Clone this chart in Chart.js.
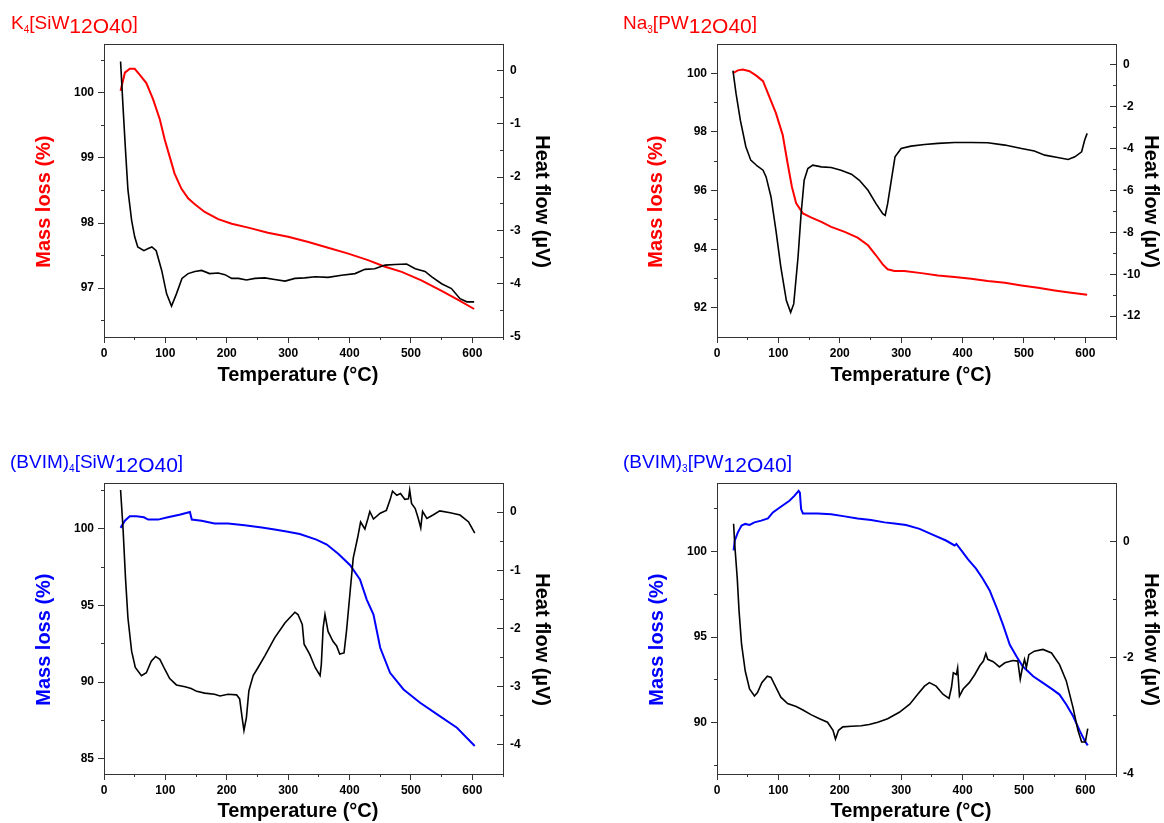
<!DOCTYPE html>
<html>
<head>
<meta charset="utf-8">
<script src="https://cdn.jsdelivr.net/npm/chart.js@4.4.1/dist/chart.umd.min.js"></script>
<style>
html, body { margin: 0; padding: 0; background: #fff; }
#wrap { position: relative; width: 1164px; height: 823px; overflow: hidden; font-family: Arial, "Liberation Sans", sans-serif; }
.panel { position: absolute; }
.panel canvas { display: block; }
.ttl { position: absolute; font-size: 19px; line-height: 19px; white-space: nowrap; }
.ttl .s { font-size: 10px; position: relative; top: 4px; line-height: 0; }
.ttl .b { font-size: 21px; position: relative; top: 4px; line-height: 0; }
</style>
</head>
<body>
<div id="wrap">
  <div class="panel" style="left:0;top:0"><canvas id="c1" width="582" height="400"></canvas></div>
  <div class="panel" style="left:582px;top:0"><canvas id="c2" width="582" height="400"></canvas></div>
  <div class="panel" style="left:0;top:418px"><canvas id="c3" width="582" height="405"></canvas></div>
  <div class="panel" style="left:582px;top:418px"><canvas id="c4" width="582" height="405"></canvas></div>

  <div class="ttl" style="left:11px;top:13px;color:#f00">K<span class="s">4</span>[SiW<span class="b">12O40</span>]</div>
  <div class="ttl" style="left:623px;top:13px;color:#f00">Na<span class="s">3</span>[PW<span class="b">12O40</span>]</div>
  <div class="ttl" style="left:10px;top:452px;color:#00f">(BVIM)<span class="s">4</span>[SiW<span class="b">12O40</span>]</div>
  <div class="ttl" style="left:623px;top:452px;color:#00f">(BVIM)<span class="s">3</span>[PW<span class="b">12O40</span>]</div>
</div>

<script>
// temperature axis (°C)
const tempMajor = [0, 100, 200, 300, 400, 500, 600];
const tempMinor = [50, 150, 250, 350, 450, 550, 650];

// K4[SiW12O40]  [T, value]
const k4Mass = [[27,100.03],[34,100.31],[42,100.37],[50,100.37],[58,100.28],[69,100.15],[80,99.90],[91,99.59],[99,99.28],[107,99.02],[115,98.76],[126,98.53],[137,98.38],[148,98.29],[164,98.17],[186,98.06],[208,97.99],[235,97.93],[267,97.85],[300,97.79],[333,97.71],[365,97.62],[398,97.53],[430,97.43],[458,97.33],[485,97.25],[517,97.12],[550,96.96],[577,96.82],[603,96.68]];
const k4Heat = [[27,0.17],[31,-0.68],[35,-1.49],[39,-2.24],[45,-2.81],[50,-3.12],[55,-3.31],[65,-3.38],[72,-3.34],[78,-3.31],[85,-3.38],[94,-3.75],[102,-4.19],[110,-4.42],[118,-4.19],[127,-3.90],[137,-3.81],[148,-3.77],[159,-3.75],[172,-3.81],[186,-3.80],[197,-3.83],[208,-3.90],[219,-3.90],[232,-3.93],[246,-3.90],[262,-3.89],[278,-3.92],[295,-3.95],[311,-3.90],[327,-3.89],[344,-3.87],[365,-3.88],[387,-3.84],[409,-3.81],[425,-3.73],[441,-3.72],[458,-3.65],[474,-3.64],[493,-3.63],[507,-3.72],[523,-3.77],[534,-3.87],[550,-4.00],[566,-4.09],[580,-4.28],[591,-4.34],[603,-4.34]];
const k4MassMajor = [97, 98, 99, 100];
const k4MassMinor = [96.5, 97.5, 98.5, 99.5, 100.5];
const k4HeatMajor = [-5, -4, -3, -2, -1, 0];
const k4HeatMinor = [-4.5, -3.5, -2.5, -1.5, -0.5];

// Na3[PW12O40]
const na3Mass = [[26,100.01],[34,100.10],[42,100.13],[53,100.07],[64,99.92],[75,99.73],[85,99.21],[96,98.64],[107,97.90],[115,96.93],[122,96.13],[129,95.56],[140,95.22],[153,95.08],[170,94.93],[186,94.76],[208,94.59],[229,94.39],[246,94.13],[259,93.79],[270,93.48],[278,93.31],[289,93.25],[305,93.25],[333,93.18],[360,93.10],[387,93.05],[414,92.99],[441,92.91],[469,92.85],[496,92.76],[523,92.68],[550,92.59],[577,92.51],[603,92.44]];
const na3Heat = [[26,-0.27],[31,-1.36],[38,-2.64],[47,-3.91],[55,-4.55],[66,-4.84],[75,-5.03],[80,-5.35],[88,-6.31],[96,-7.91],[104,-9.66],[113,-11.26],[120,-11.82],[125,-11.42],[132,-9.19],[137,-7.11],[142,-5.51],[148,-4.95],[156,-4.79],[170,-4.87],[186,-4.90],[202,-5.03],[219,-5.22],[232,-5.51],[246,-5.99],[259,-6.63],[270,-7.11],[274,-7.19],[278,-6.63],[284,-5.51],[290,-4.39],[300,-3.99],[316,-3.88],[338,-3.80],[360,-3.75],[387,-3.71],[414,-3.71],[441,-3.72],[469,-3.83],[496,-3.99],[517,-4.11],[534,-4.31],[555,-4.42],[572,-4.52],[583,-4.39],[594,-4.15],[599,-3.59],[603,-3.27]];
const na3MassMajor = [92, 94, 96, 98, 100];
const na3MassMinor = [93, 95, 97, 99];
const na3HeatMajor = [-12, -10, -8, -6, -4, -2, 0];
const na3HeatMinor = [-11, -9, -7, -5, -3, -1];

// (BVIM)4[SiW12O40]
const siMass = [[27,100.07],[34,100.54],[42,100.83],[53,100.83],[65,100.76],[72,100.61],[88,100.61],[104,100.76],[123,100.93],[140,101.11],[143,100.61],[159,100.54],[180,100.35],[202,100.35],[229,100.24],[257,100.09],[278,99.96],[295,99.85],[319,99.67],[346,99.30],[363,98.98],[382,98.37],[401,97.63],[417,96.70],[428,95.39],[439,94.41],[450,92.24],[466,90.61],[488,89.52],[515,88.65],[547,87.78],[575,87.02],[604,85.83]];
const siHeat = [[27,0.38],[31,-0.28],[35,-1.13],[39,-1.82],[45,-2.39],[51,-2.67],[61,-2.81],[69,-2.76],[77,-2.56],[84,-2.48],[91,-2.53],[99,-2.70],[107,-2.86],[118,-2.97],[132,-3.00],[142,-3.03],[151,-3.08],[164,-3.11],[180,-3.13],[189,-3.16],[202,-3.13],[216,-3.14],[221,-3.21],[225,-3.53],[228,-3.75],[232,-3.53],[236,-3.07],[243,-2.81],[251,-2.67],[262,-2.47],[278,-2.16],[295,-1.90],[311,-1.72],[316,-1.76],[323,-1.93],[326,-2.27],[335,-2.44],[344,-2.67],[352,-2.81],[354,-2.62],[357,-1.99],[360,-1.76],[365,-2.05],[373,-2.22],[379,-2.30],[384,-2.44],[391,-2.42],[395,-2.05],[401,-1.36],[406,-0.79],[413,-0.45],[418,-0.17],[425,-0.29],[430,-0.11],[433,0.01],[439,-0.12],[450,-0.02],[460,0.03],[466,0.21],[470,0.36],[477,0.29],[483,0.32],[490,0.22],[496,0.23],[498,0.38],[501,0.15],[507,0.06],[512,-0.11],[516,-0.27],[519,0.01],[526,-0.11],[536,-0.05],[547,0.02],[564,-0.01],[580,-0.05],[594,-0.17],[604,-0.36]];
const siMassMajor = [85, 90, 95, 100];
const siMassMinor = [87.5, 92.5, 97.5, 102.5];
const siHeatMajor = [-4, -3, -2, -1, 0];
const siHeatMinor = [-4.5, -3.5, -2.5, -1.5, -0.5];

// (BVIM)3[PW12O40]
const pMass = [[27,100.06],[29,100.64],[34,101.12],[40,101.51],[46,101.61],[53,101.55],[61,101.70],[72,101.80],[83,101.93],[91,102.28],[104,102.61],[118,102.96],[126,103.25],[133,103.54],[135,103.44],[137,102.48],[140,102.22],[164,102.22],[186,102.17],[208,102.05],[229,101.93],[251,101.84],[273,101.70],[289,101.64],[308,101.55],[330,101.32],[352,100.97],[373,100.64],[387,100.35],[390,100.44],[398,100.06],[409,99.54],[422,99.00],[433,98.41],[444,97.74],[455,96.77],[466,95.71],[477,94.55],[488,93.87],[498,93.29],[515,92.71],[531,92.32],[547,91.93],[558,91.64],[569,91.06],[580,90.39],[591,89.52],[599,88.94],[604,88.67]];
const pHeat = [[27,0.30],[29,-0.07],[33,-0.64],[36,-1.21],[40,-1.77],[46,-2.23],[53,-2.54],[61,-2.66],[66,-2.60],[73,-2.43],[82,-2.32],[88,-2.34],[96,-2.51],[104,-2.68],[115,-2.79],[129,-2.84],[140,-2.90],[153,-2.98],[167,-3.05],[180,-3.11],[189,-3.25],[193,-3.40],[198,-3.25],[205,-3.19],[219,-3.18],[235,-3.17],[248,-3.15],[262,-3.11],[278,-3.05],[297,-2.94],[314,-2.80],[327,-2.63],[338,-2.49],[346,-2.43],[357,-2.49],[368,-2.63],[378,-2.70],[382,-2.51],[385,-2.26],[390,-2.29],[392,-2.18],[395,-2.66],[401,-2.54],[411,-2.43],[420,-2.29],[428,-2.14],[434,-2.06],[438,-1.93],[441,-2.03],[450,-2.07],[460,-2.16],[469,-2.09],[482,-2.05],[490,-2.06],[494,-2.37],[497,-2.20],[501,-2.03],[504,-2.17],[508,-1.95],[517,-1.89],[531,-1.86],[545,-1.92],[558,-2.12],[569,-2.40],[580,-2.86],[588,-3.25],[594,-3.45],[600,-3.45],[604,-3.22]];
const pMassMajor = [90, 95, 100];
const pMassMinor = [87.5, 92.5, 97.5, 102.5];
const pHeatMajor = [-4, -2, 0];
const pHeatMinor = [-3, -1];

Chart.defaults.font.family = 'Arial, "Liberation Sans", sans-serif';
Chart.defaults.color = '#000';

const AXIS = '#333';
const tickFont = { size: 12, weight: 'bold' };
const titleFont = { size: 20, weight: 'bold' };

// sets the tick values of a scale to a fixed list
const fixTicks = (vals) => (s) => { s.ticks = vals.map(v => ({ value: v })); };

// zero-size axis that only draws the short minor tick marks, next to the plot box
function minorAxis(position, range, vals, len) {
    const horiz = position === 'bottom';
    return {
        type: 'linear',
        display: true,
        position: position,
        weight: 0,
        min: range[0],
        max: range[1],
        bounds: 'data',
        afterBuildTicks: fixTicks(vals),
        afterFit: (s) => { if (horiz) s.height = 0; else s.width = 0; },
        ticks: { display: false, autoSkip: false },
        grid: { drawOnChartArea: false, tickLength: len, color: AXIS, tickColor: AXIS },
        border: { display: false },
    };
}

function drawPanel(id, p) {
    const W = p.W, H = p.H, box = p.box;
    new Chart(document.getElementById(id), {
        type: 'line',
        data: {
            datasets: [
                {
                    data: p.heat.map(d => ({ x: d[0], y: d[1] })),
                    borderColor: '#000',
                    borderWidth: 1.6,
                    pointRadius: 0,
                    tension: 0,
                    xAxisID: 'x',
                    yAxisID: 'y1',
                },
                {
                    data: p.mass.map(d => ({ x: d[0], y: d[1] })),
                    borderColor: p.color,
                    borderWidth: 2,
                    pointRadius: 0,
                    tension: 0,
                    xAxisID: 'x',
                    yAxisID: 'y',
                },
            ],
        },
        options: {
            responsive: false,
            animation: false,
            layout: { padding: { top: box.T, left: 0, right: 0, bottom: 0 } },
            plugins: { legend: { display: false }, tooltip: { enabled: false } },
            scales: {
                x: {
                    type: 'linear',
                    position: 'bottom',
                    weight: 1,
                    min: 0,
                    max: 650,
                    bounds: 'data',
                    afterBuildTicks: fixTicks(tempMajor),
                    afterFit: (s) => { s.height = H - box.B; },
                    ticks: { autoSkip: false, maxRotation: 0, font: tickFont, padding: 3 },
                    grid: { drawOnChartArea: false, tickLength: 6, color: AXIS, tickColor: AXIS },
                    border: { color: AXIS },
                    title: { display: true, text: 'Temperature (°C)  ', font: titleFont, padding: { top: 0, bottom: p.xPad } },
                },
                xMinor: minorAxis('bottom', [0, 650], tempMinor, 3),
                x2: {
                    type: 'linear',
                    position: 'top',
                    min: 0,
                    max: 650,
                    afterFit: (s) => { s.height = 0; },
                    ticks: { display: false },
                    grid: { drawOnChartArea: false, drawTicks: false },
                    border: { color: AXIS },
                },
                y: {
                    type: 'linear',
                    position: 'left',
                    weight: 1,
                    min: p.massRange[0],
                    max: p.massRange[1],
                    bounds: 'data',
                    afterBuildTicks: fixTicks(p.massMajor),
                    afterFit: (s) => { s.width = box.L; },
                    ticks: { autoSkip: false, font: tickFont, padding: 4 },
                    grid: { drawOnChartArea: false, tickLength: 6, color: AXIS, tickColor: AXIS },
                    border: { color: AXIS },
                    title: { display: true, text: 'Mass loss (%)    ', color: p.color, font: titleFont, padding: { top: p.leftPad, bottom: 0 } },
                },
                yMinor: minorAxis('left', p.massRange, p.massMinor, 3),
                y1: {
                    type: 'linear',
                    position: 'right',
                    weight: 1,
                    min: p.heatRange[0],
                    max: p.heatRange[1],
                    bounds: 'data',
                    afterBuildTicks: fixTicks(p.heatMajor),
                    afterFit: (s) => { s.width = W - box.R; },
                    ticks: { autoSkip: false, font: tickFont, padding: 13 },
                    grid: { drawOnChartArea: false, tickLength: -6, color: AXIS, tickColor: AXIS },
                    border: { color: AXIS },
                    title: { display: true, text: '    Heat flow (µV)', font: titleFont, padding: { top: p.rightPad, bottom: 0 } },
                },
                y1Minor: minorAxis('right', p.heatRange, p.heatMinor, -3),
            },
        },
    });
}

drawPanel('c1', {
    W: 582, H: 400, box: { L: 104, R: 503, T: 44, B: 337 }, color: '#f00',
    mass: k4Mass, heat: k4Heat, massRange: [96.25, 100.75], heatRange: [-5, 0.5],
    massMajor: k4MassMajor, massMinor: k4MassMinor, heatMajor: k4HeatMajor, heatMinor: k4HeatMinor,
    leftPad: 32, rightPad: 28, xPad: 13,
});
drawPanel('c2', {
    W: 582, H: 400, box: { L: 135, R: 534, T: 44, B: 337 }, color: '#f00',
    mass: na3Mass, heat: na3Heat, massRange: [91, 101], heatRange: [-13, 1],
    massMajor: na3MassMajor, massMinor: na3MassMinor, heatMajor: na3HeatMajor, heatMinor: na3HeatMinor,
    leftPad: 62, rightPad: 1, xPad: 13,
});
drawPanel('c3', {
    W: 582, H: 405, box: { L: 104, R: 503, T: 65, B: 356 }, color: '#00f',
    mass: siMass, heat: siHeat, massRange: [84, 103], heatRange: [-4.5, 0.5],
    massMajor: siMassMajor, massMinor: siMassMinor, heatMajor: siHeatMajor, heatMinor: siHeatMinor,
    leftPad: 32, rightPad: 28, xPad: 0,
});
drawPanel('c4', {
    W: 582, H: 405, box: { L: 135, R: 534, T: 65, B: 356 }, color: '#00f',
    mass: pMass, heat: pHeat, massRange: [87, 104], heatRange: [-4, 1],
    massMajor: pMassMajor, massMinor: pMassMinor, heatMajor: pHeatMajor, heatMinor: pHeatMinor,
    leftPad: 63, rightPad: 1, xPad: 0,
});
</script>
</body>
</html>
